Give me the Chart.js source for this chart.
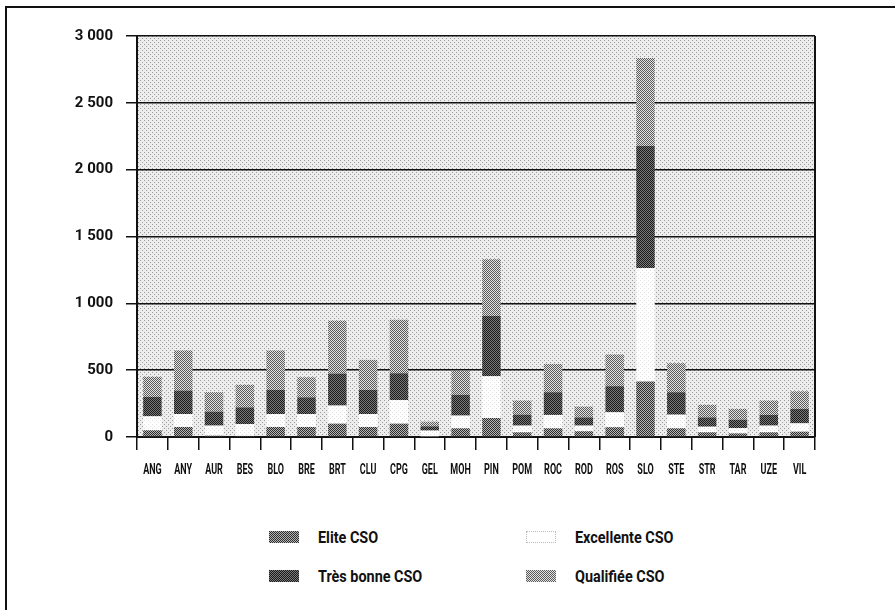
<!DOCTYPE html>
<html>
<head>
<meta charset="utf-8">
<script src="https://cdn.jsdelivr.net/npm/chart.js@4/dist/chart.umd.min.js"></script>
<style>
  body { margin: 0; background: #fff; width: 895px; height: 610px; overflow: hidden; position: relative; }
  #frame { position: absolute; left: 5px; top: 6px; width: 895px; height: 610px; border-top: 2px solid #111; border-left: 2px solid #111; }
  #wrap { position: absolute; left: 0; top: 0; width: 895px; height: 490px; }
  #legend { position: absolute; left: 269px; top: 528px; display: grid; grid-template-columns: 257px 257px; row-gap: 21px;
    font-family: Roboto, "Liberation Sans", sans-serif; font-weight: bold; font-size: 16px; color: #111; }
  #legend .item { display: flex; align-items: center; height: 18px; }
  #legend .sw { width: 30px; height: 12px; margin-right: 19px; flex: none; }
  #legend .txt { display: inline-block; transform: scaleX(0.9); transform-origin: left center; white-space: nowrap; }
</style>
</head>
<body>
<div id="frame"></div>
<div id="wrap"><canvas id="chart"></canvas></div>
<div id="legend"></div>
<script>
const categories = ["ANG", "ANY", "AUR", "BES", "BLO", "BRE", "BRT", "CLU", "CPG", "GEL", "MOH",
  "PIN", "POM", "ROC", "ROD", "ROS", "SLO", "STE", "STR", "TAR", "UZE", "VIL"];
const seriesNames = ["Elite CSO", "Excellente CSO", "Très bonne CSO", "Qualifiée CSO"];
const elite      = [50, 75, 10, 8, 75, 75, 100, 75, 100, 5, 65, 142, 35, 65, 43, 73, 415, 65, 35, 27, 35, 40];
const excellente = [105, 97, 75, 89, 97, 97, 135, 97, 177, 43, 95, 313, 50, 100, 42, 112, 850, 102, 42, 40, 50, 62];
const tresBonne  = [145, 175, 105, 125, 180, 125, 240, 180, 200, 32, 155, 450, 82, 170, 62, 195, 912, 168, 70, 63, 80, 108];
const qualifiee  = [150, 300, 145, 168, 295, 150, 395, 225, 400, 35, 180, 425, 105, 212, 80, 237, 658, 217, 93, 80, 107, 132];
const yTicks = [0, 500, 1000, 1500, 2000, 2500, 3000];

const FONT = 'Roboto, "Liberation Sans", sans-serif';

// small halftone tiles, like the printed screen
function tile(dark, light, dots) {
  const c = document.createElement("canvas");
  c.width = c.height = 4;
  const g = c.getContext("2d");
  g.fillStyle = light;
  g.fillRect(0, 0, 4, 4);
  g.fillStyle = dark;
  dots.forEach(([x, y]) => g.fillRect(x, y, 1, 1));
  return c;
}
const checker = [[0,0],[2,0],[1,1],[3,1],[0,2],[2,2],[1,3],[3,3]];
const tiles = [
  tile("#2e2e2e", "#b4b4b4", checker),
  tile("#e0e0e0", "#ffffff", [[0,0],[2,2]]),
  tile("#1a1a1a", "#7a7a7a", checker),
  tile("#5a5a5a", "#e2e2e2", checker)
];
const bgTile = tile("#9a9a9a", "#ededed", [[0,0],[2,2]]);

const ctx = document.getElementById("chart").getContext("2d");
const fills = tiles.map(t => ctx.createPattern(t, "repeat"));
const bgFill = ctx.createPattern(bgTile, "repeat");

const plotFrame = {
  id: "plotFrame",
  beforeDraw(chart) {
    const a = chart.chartArea, c = chart.ctx;
    c.save();
    c.fillStyle = bgFill;
    c.fillRect(a.left, a.top, a.right - a.left, a.bottom - a.top);
    c.restore();
  },
  afterDraw(chart) {
    const a = chart.chartArea, c = chart.ctx;
    c.save();
    c.strokeStyle = "#111";
    c.lineWidth = 2;
    c.beginPath();
    c.moveTo(a.right, a.top);
    c.lineTo(a.right, a.bottom);
    c.stroke();

    // condensed category labels at the x scale's own tick positions
    const x = chart.scales.x;
    c.fillStyle = "#111";
    c.font = "bold 15px " + FONT;
    c.textAlign = "center";
    c.textBaseline = "middle";
    categories.forEach((lab, i) => {
      c.save();
      c.translate(x.getPixelForTick(i), a.bottom + 33);
      c.scale(0.6, 1);
      c.fillText(lab, 0, 0);
      c.restore();
    });
    c.restore();
  }
};

const values = [elite, excellente, tresBonne, qualifiee];

new Chart(ctx, {
  type: "bar",
  data: {
    labels: categories,
    datasets: seriesNames.map((name, i) => ({
      label: name,
      data: values[i],
      backgroundColor: fills[i],
      borderWidth: 0,
      barPercentage: 0.6,
      categoryPercentage: 1,
      stack: "cso"
    }))
  },
  options: {
    responsive: true,
    maintainAspectRatio: false,
    animation: false,
    layout: { padding: { top: 36, right: 80, bottom: 0, left: 0 } },
    plugins: { legend: { display: false }, tooltip: { enabled: false } },
    scales: {
      x: {
        stacked: true,
        afterFit: s => { s.height = 53; },
        grid: { offset: true, drawOnChartArea: false, drawTicks: true, tickLength: 13, color: "#111", lineWidth: 1.5 },
        border: { display: true, color: "#111", width: 2 },
        ticks: { display: false, autoSkip: false, maxRotation: 0 }
      },
      y: {
        stacked: true,
        min: 0,
        max: 3000,
        afterFit: s => { s.width = 137; },
        afterBuildTicks: s => { s.ticks = yTicks.map(v => ({ value: v })); },
        grid: { color: "#111", lineWidth: 1.5, tickLength: 11 },
        border: { display: true, color: "#111", width: 2 },
        ticks: {
          color: "#111",
          padding: 13,
          font: { family: FONT, size: 15, weight: "bold" },
          callback: v => String(v).replace(/\B(?=(\d{3})+(?!\d))/g, " ")
        }
      }
    }
  },
  plugins: [plotFrame]
});

// legend in two columns: Elite / Excellente, Très bonne / Qualifiée
const legend = document.getElementById("legend");
seriesNames.forEach((name, i) => {
  const item = document.createElement("div");
  item.className = "item";
  const sw = document.createElement("span");
  sw.className = "sw";
  sw.style.backgroundImage = `url(${tiles[i].toDataURL()})`;
  if (i === 1) { sw.style.backgroundImage = "none"; sw.style.border = "1px dotted #bbb"; sw.style.boxSizing = "border-box"; }
  const txt = document.createElement("span");
  txt.className = "txt";
  txt.textContent = name;
  item.appendChild(sw);
  item.appendChild(txt);
  legend.appendChild(item);
});
</script>
</body>
</html>
